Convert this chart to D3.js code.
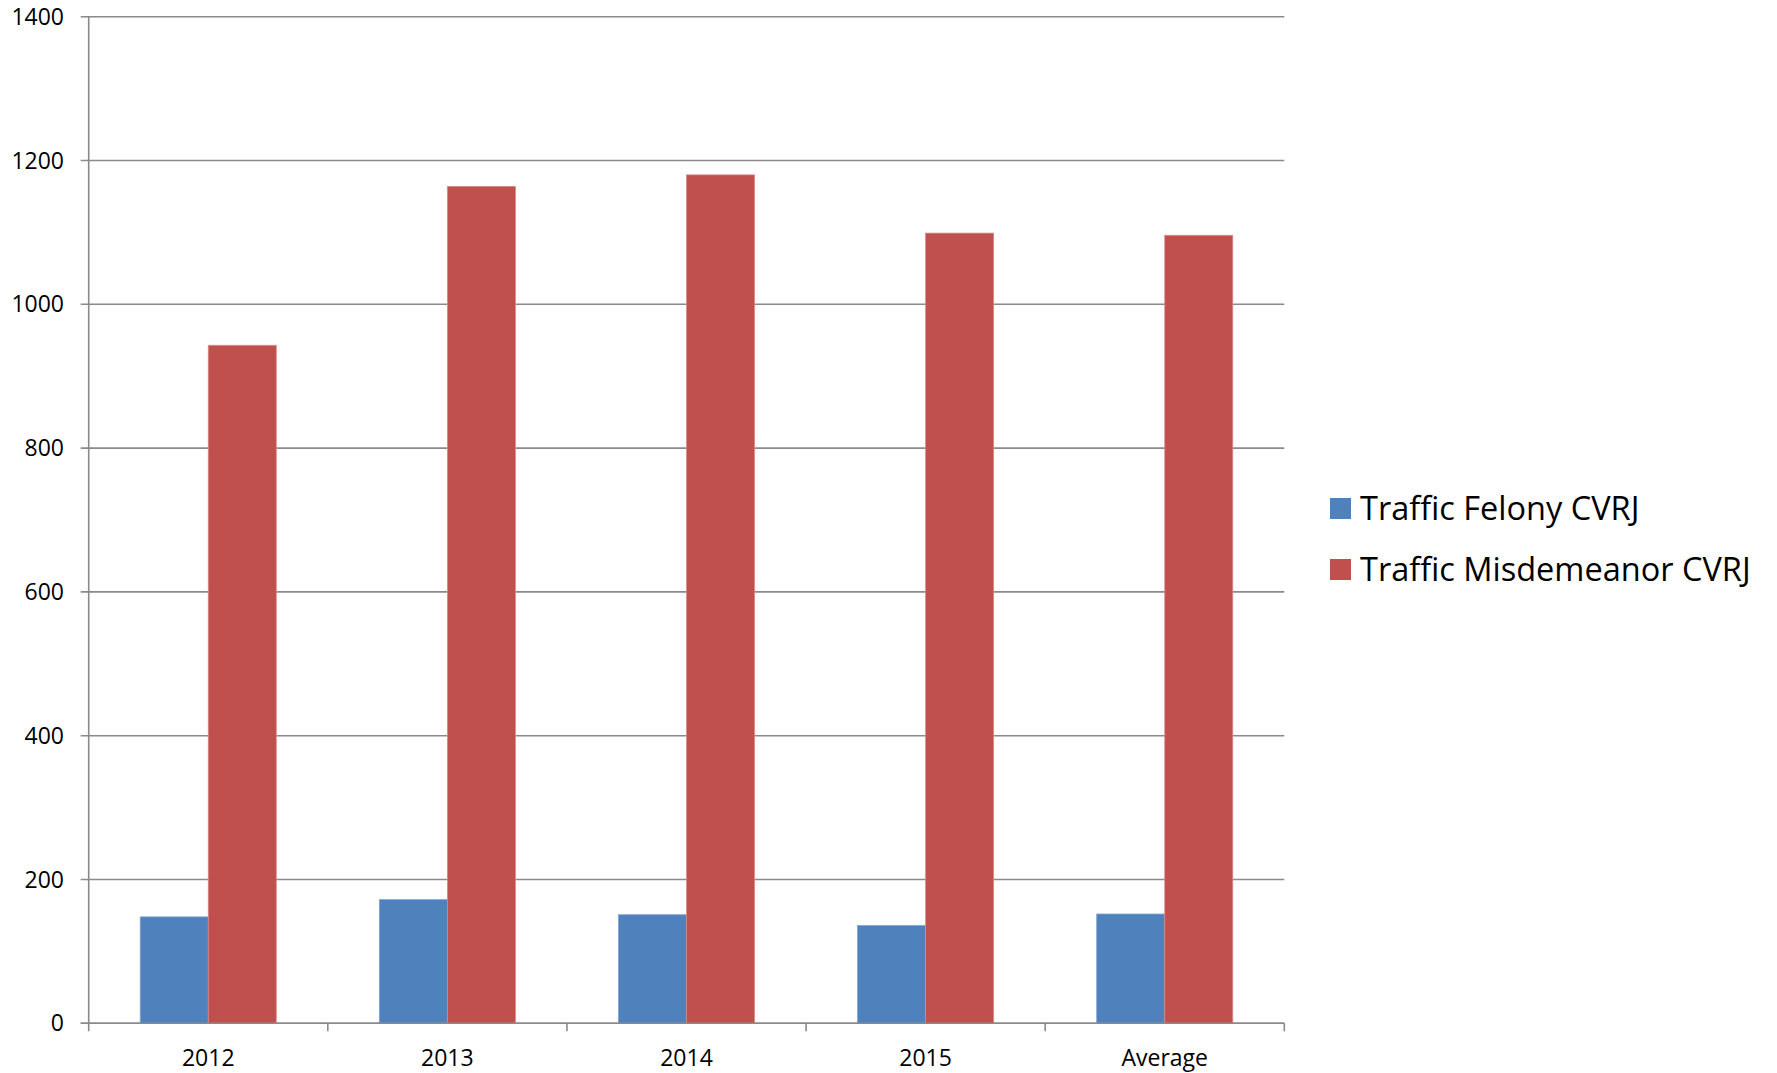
<!DOCTYPE html>
<html>
<head>
<meta charset="utf-8">
<script src="https://cdn.jsdelivr.net/npm/d3@7"></script>
<style>
  body { margin: 0; background: #fff; }
  text { font-family: "Open Sans", Lato, sans-serif; fill: #000; }
</style>
</head>
<body>
<script>
var categories = ['2012', '2013', '2014', '2015', 'Average'];
var seriesNames = ['Traffic Felony CVRJ', 'Traffic Misdemeanor CVRJ'];
var felony = [148, 172, 151, 136, 152];
var misdemeanor = [943, 1164, 1180, 1099, 1096];
var yTicks = [0, 200, 400, 600, 800, 1000, 1200, 1400];
var colors = ['#4f81bd', '#c0504d'];

var settings = {
  width: 1777,
  height: 1073,
  left: 88.7,
  right: 1284.3,
  top: 16.7,
  bottom: 1023.3
};

var svg = d3.select('body').append('svg')
  .attr('width', settings.width)
  .attr('height', settings.height);

var x = d3.scaleBand()
  .domain(categories)
  .range([settings.left, settings.right])
  .paddingInner(0)
  .paddingOuter(0);

var inner = d3.scaleBand()
  .domain([0, 1])
  .range([0, x.bandwidth() * 0.569]);

var y = d3.scaleLinear()
  .domain([0, 1400])
  .range([settings.bottom, settings.top]);

// gridlines
svg.append('g')
  .selectAll('line')
  .data(yTicks)
  .enter().append('line')
    .attr('x1', settings.left - 8)
    .attr('x2', settings.right)
    .attr('y1', function(d){ return y(d); })
    .attr('y2', function(d){ return y(d); })
    .style('stroke', '#8a8a8a')
    .style('stroke-width', 1.6);

// y labels
svg.append('g')
  .selectAll('text')
  .data(yTicks)
  .enter().append('text')
    .attr('x', 64)
    .attr('y', function(d){ return y(d); })
    .attr('dy', '0.35em')
    .attr('text-anchor', 'end')
    .style('font-size', '23px')
    .text(function(d){ return d; });

// bars
var rows = categories.map(function(c, i){ return { cat: c, vals: [felony[i], misdemeanor[i]] }; });
var groups = svg.append('g')
  .selectAll('g')
  .data(rows)
  .enter().append('g')
    .attr('transform', function(d){
      return 'translate(' + (x(d.cat) + (x.bandwidth() - inner.range()[1]) / 2) + ',0)';
    });

groups.selectAll('rect')
  .data(function(d){ return d.vals; })
  .enter().append('rect')
    .attr('x', function(d, i){ return inner(i); })
    .attr('y', function(d){ return y(d); })
    .attr('width', inner.bandwidth())
    .attr('height', function(d){ return settings.bottom - y(d); })
    .style('fill', function(d, i){ return colors[i]; })
    .style('stroke', function(d, i){ return i === 0 ? '#7ea3d4' : '#d98a88'; })
    .style('stroke-width', 0.8);

// axes lines
svg.append('line')
  .attr('x1', settings.left).attr('x2', settings.left)
  .attr('y1', settings.top).attr('y2', settings.bottom + 8)
  .style('stroke', '#8a8a8a').style('stroke-width', 1.6);
svg.append('line')
  .attr('x1', settings.left - 8).attr('x2', settings.right)
  .attr('y1', settings.bottom).attr('y2', settings.bottom)
  .style('stroke', '#8a8a8a').style('stroke-width', 1.6);

// category ticks
var catEdges = categories.map(function(c){ return x(c) + x.bandwidth(); });
svg.append('g')
  .selectAll('line')
  .data(catEdges)
  .enter().append('line')
    .attr('x1', function(d){ return d; })
    .attr('x2', function(d){ return d; })
    .attr('y1', settings.bottom)
    .attr('y2', settings.bottom + 8)
    .style('stroke', '#8a8a8a').style('stroke-width', 1.6);

svg.append('g')
  .selectAll('text')
  .data(categories)
  .enter().append('text')
    .attr('x', function(d){ return x(d) + x.bandwidth() / 2; })
    .attr('y', 1066)
    .attr('text-anchor', 'middle')
    .style('font-size', '23px')
    .text(function(d){ return d; });

// legend
var legend = svg.append('g')
  .selectAll('g')
  .data(seriesNames)
  .enter().append('g')
    .attr('transform', function(d, i){ return 'translate(1330,' + (498 + i * 61) + ')'; });

legend.append('rect')
  .attr('width', 21)
  .attr('height', 21)
  .style('fill', function(d, i){ return colors[i]; });

legend.append('text')
  .attr('x', 30)
  .attr('y', 10.5)
  .attr('dy', '0.35em')
  .style('font-size', '32.5px')
  .text(function(d){ return d; });
</script>
</body>
</html>
